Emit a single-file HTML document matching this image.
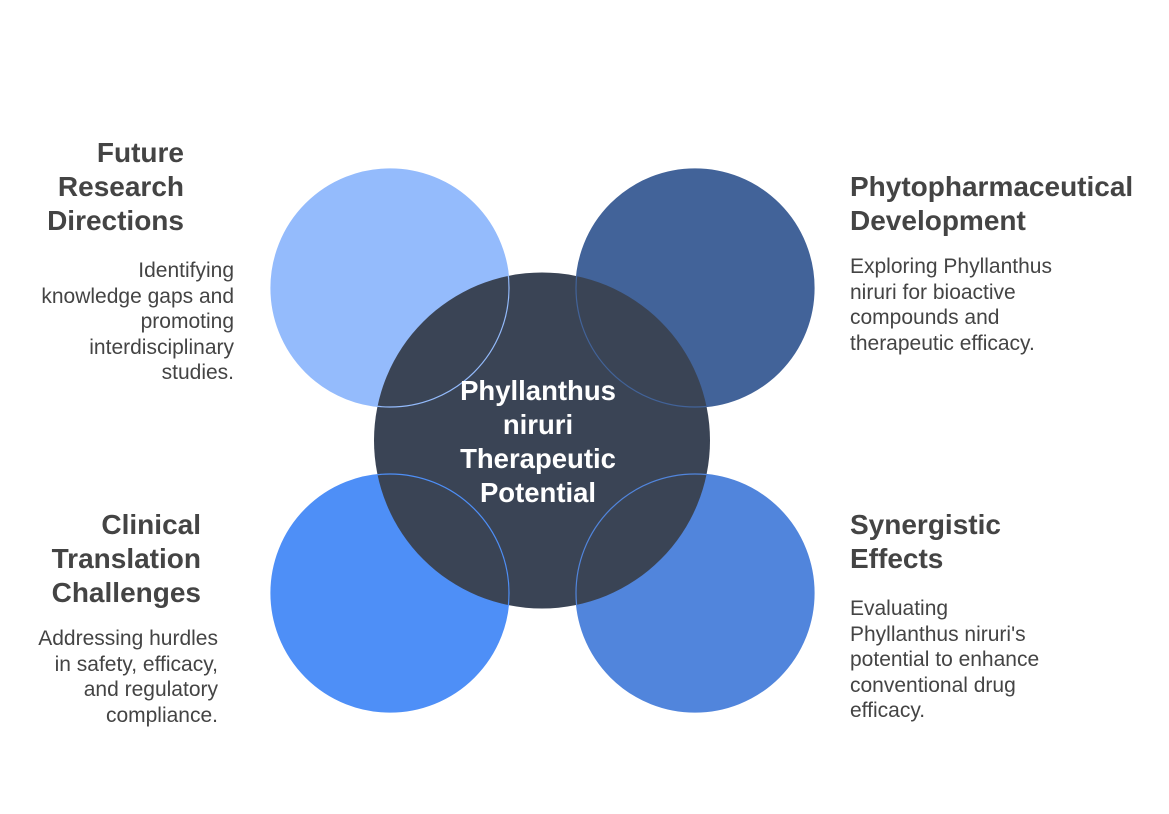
<!DOCTYPE html>
<html><head><style>
body{margin:0;width:1169px;height:814px;background:#fff;position:relative;overflow:hidden;font-family:"Liberation Sans",Arial,sans-serif}
.t{position:absolute;font-weight:bold;font-size:28px;line-height:34px;color:#444}
.d{position:absolute;font-size:21px;line-height:25.5px;color:#444}
.r{text-align:right}
</style></head><body>
<svg width="1169" height="814" style="position:absolute;left:0;top:0">
<circle cx="390" cy="288" r="119" fill="#94BBFC"/>
<circle cx="695" cy="288" r="119" fill="#426399"/>
<circle cx="390" cy="593" r="119" fill="#4E8FF7"/>
<circle cx="695" cy="593" r="119" fill="#5185DC"/>
<circle cx="542" cy="440.5" r="168" fill="#3A4455"/>
<circle cx="390" cy="288" r="119" fill="none" stroke="#94BBFC" stroke-width="1.2"/>
<circle cx="695" cy="288" r="119" fill="none" stroke="#426399" stroke-width="1.2"/>
<circle cx="390" cy="593" r="119" fill="none" stroke="#4E8FF7" stroke-width="1.2"/>
<circle cx="695" cy="593" r="119" fill="none" stroke="#5185DC" stroke-width="1.2"/>
<g fill="#fff" font-family="Liberation Sans,Arial,sans-serif" font-weight="bold" font-size="27.5" text-anchor="middle">
<text x="538" y="400">Phyllanthus</text>
<text x="538" y="434">niruri</text>
<text x="538" y="468">Therapeutic</text>
<text x="538" y="502">Potential</text>
</g>
</svg>
<div class="t r" style="right:985px;top:136px">Future<br>Research<br>Directions</div>
<div class="d r" style="right:935px;top:258px">Identifying<br>knowledge gaps and<br>promoting<br>interdisciplinary<br>studies.</div>
<div class="t" style="left:850px;top:170px">Phytopharmaceutical<br>Development</div>
<div class="d" style="left:850px;top:254px">Exploring Phyllanthus<br>niruri for bioactive<br>compounds and<br>therapeutic efficacy.</div>
<div class="t r" style="right:968px;top:508px">Clinical<br>Translation<br>Challenges</div>
<div class="d r" style="right:951px;top:626px">Addressing hurdles<br>in safety, efficacy,<br>and regulatory<br>compliance.</div>
<div class="t" style="left:850px;top:508px">Synergistic<br>Effects</div>
<div class="d" style="left:850px;top:596px">Evaluating<br>Phyllanthus niruri's<br>potential to enhance<br>conventional drug<br>efficacy.</div>
</body></html>
